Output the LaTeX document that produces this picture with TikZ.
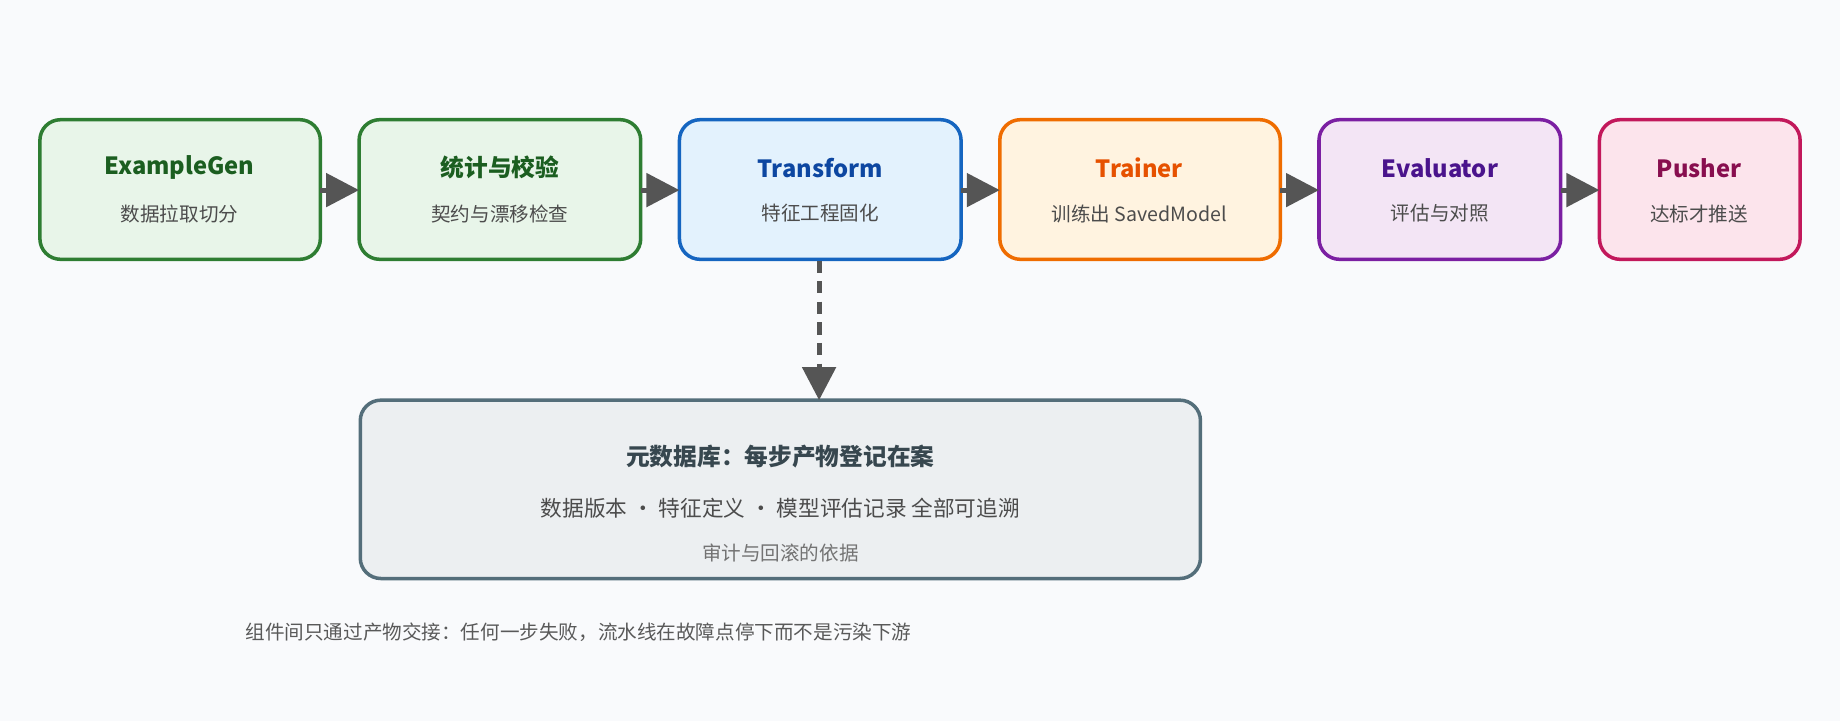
\documentclass[tikz,border=0pt]{standalone}
\usepackage{fontspec}
\setmainfont{Noto Sans CJK SC}
\usetikzlibrary{arrows.meta}
\definecolor{bgc}{RGB}{249,250,252}
\definecolor{gdraw}{HTML}{2E7D32}\definecolor{gfill}{HTML}{E8F5E9}\definecolor{gtext}{HTML}{1B5E20}
\definecolor{bdraw}{HTML}{1565C0}\definecolor{bfill}{HTML}{E3F2FD}\definecolor{btext}{HTML}{0D47A1}
\definecolor{odraw}{HTML}{EF6C00}\definecolor{ofill}{HTML}{FFF3E0}\definecolor{otext}{HTML}{E65100}
\definecolor{pdraw}{HTML}{7B1FA2}\definecolor{pfill}{HTML}{F3E5F5}\definecolor{ptext}{HTML}{4A148C}
\definecolor{rdraw}{HTML}{C2185B}\definecolor{rfill}{HTML}{FCE4EC}\definecolor{rtext}{HTML}{880E4F}
\definecolor{mdraw}{HTML}{546E7A}\definecolor{mfill}{HTML}{ECEFF1}\definecolor{mtext}{HTML}{37474F}
\definecolor{arrowc}{HTML}{555555}
\tikzset{
  stage/.style={rounded corners=10pt, line width=1.7pt, draw=#1draw, fill=#1fill},
  flow/.style={-{Triangle[length=16pt,width=16pt]}, line width=2.5pt, color=arrowc},
  ttl/.style={font=\fontsize{11.5}{13}\selectfont\bfseries},
  sub/.style={font=\fontsize{9.5}{11}\selectfont, text=black!70}
}
\begin{document}
\begin{tikzpicture}[x=0.02cm,y=-0.02cm]
  \fill[bgc] (0,0) rectangle (1568,614);
  \useasboundingbox (0,0) rectangle (1568,614);

  % pipeline stages
  \draw[stage=g] (34,102) rectangle (273,221);
  \draw[stage=g] (306,102) rectangle (546,221);
  \draw[stage=b] (579,102) rectangle (819,221);
  \draw[stage=o] (852,102) rectangle (1091,221);
  \draw[stage=p] (1124,102) rectangle (1330,221);
  \draw[stage=r] (1363,102) rectangle (1534,221);
  \node (gen) at (153,162) {};
  \node[ttl,text=gtext] at (153,143) {ExampleGen};
  \node[sub] at (153,182) {数据拉取切分};
  \node[ttl,text=gtext] at (426,143) {统计与校验};
  \node[sub] at (426,182) {契约与漂移检查};
  \node[ttl,text=btext] at (699,143) {Transform};
  \node[sub] at (699,182) {特征工程固化};
  \node[ttl,text=otext] at (971,143) {Trainer};
  \node[sub] at (971,182) {训练出 SavedModel};
  \node[ttl,text=ptext] at (1227,143) {Evaluator};
  \node[sub] at (1227,182) {评估与对照};
  \node[ttl,text=rtext] at (1448,143) {Pusher};
  \node[sub] at (1448,182) {达标才推送};

  \coordinate (a1) at (273,162); \coordinate (b1) at (306,162);
  \coordinate (a2) at (546,162); \coordinate (b2) at (579,162);
  \coordinate (a3) at (819,162); \coordinate (b3) at (852,162);
  \coordinate (a4) at (1091,162); \coordinate (b4) at (1124,162);
  \coordinate (a5) at (1330,162); \coordinate (b5) at (1363,162);
  \foreach \i in {1,...,5} \draw[flow] (a\i) -- (b\i);

  % metadata store
  \draw[stage=m] (307,341) rectangle (1023,493);
  \coordinate (tr) at (698,222); \coordinate (md) at (698,341);
  \draw[flow, dash pattern=on 6pt off 4pt] (tr) -- (md);
  \node[ttl,text=mtext] at (665,389) {元数据库：每步产物登记在案};
  \node[sub,font=\fontsize{10.5}{12}\selectfont] at (665,433) {数据版本 · 特征定义 · 模型评估记录 全部可追溯};
  \node[sub,text=black!55] at (665,471) {审计与回滚的依据};

  \node[sub,text=black!65,anchor=west] at (203,539) {组件间只通过产物交接：任何一步失败，流水线在故障点停下而不是污染下游};
\end{tikzpicture}
\end{document}
